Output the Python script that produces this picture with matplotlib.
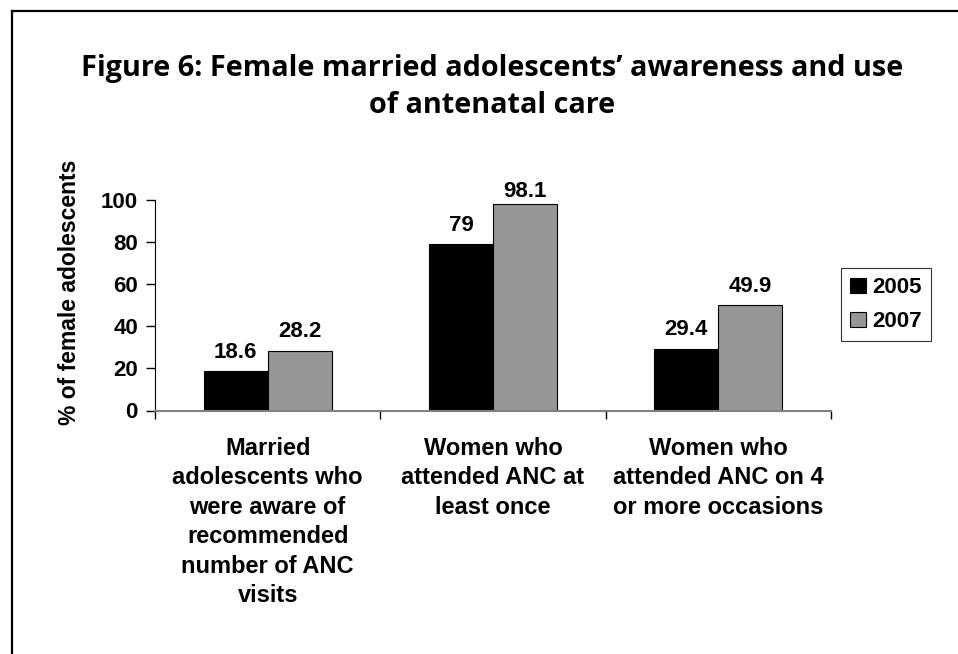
import numpy as np
import matplotlib
matplotlib.use('Agg')
import matplotlib.pyplot as plt
from matplotlib.lines import Line2D

# data
categories = ['Married\nadolescents who\nwere aware of\nrecommended\nnumber of ANC\nvisits',
              'Women who\nattended ANC at\nleast once',
              'Women who\nattended ANC on 4\nor more occasions']
series_names = ['2005', '2007']
vals_2005 = [18.6, 79, 29.4]
vals_2007 = [28.2, 98.1, 49.9]
yticks = [0, 20, 40, 60, 80, 100]

plt.rcParams['font.family'] = ['Liberation Sans', 'DejaVu Sans']

fig = plt.figure(figsize=(9.58, 6.54), dpi=100)
ax = fig.add_axes([155 / 958, 1 - 410.5 / 654, (831 - 155) / 958, 210.5 / 654])

x = np.arange(len(categories))
w = 0.284
b1 = ax.bar(x - w / 2, vals_2005, w, color='black', edgecolor='black', linewidth=0.8, label=series_names[0])
b2 = ax.bar(x + w / 2, vals_2007, w, color='#969696', edgecolor='black', linewidth=0.8, label=series_names[1])

for bars, vals in [(b1, vals_2005), (b2, vals_2007)]:
    for rect, v in zip(bars, vals):
        ax.text(rect.get_x() + rect.get_width() / 2, min(v + 6.5, 101.5), f'{v:g}', ha='center',
                va='baseline', fontsize=16, fontweight='bold', clip_on=False)

ax.set_xlim(-0.5, len(categories) - 0.5)
ax.set_ylim(0, 100)
ax.set_yticks(yticks)
ax.set_yticklabels([str(t) for t in yticks], fontsize=16, fontweight='bold')
ax.tick_params(axis='y', direction='out', length=6.5, width=1, pad=5.8)

# category labels between boundary ticks
ax.set_xticks(np.arange(-0.5, len(categories), 1.0))
ax.set_xticklabels([])
ax.tick_params(axis='x', direction='out', length=6, width=1)
for i, lab in enumerate(categories):
    ax.text(i, -12.5, lab, ha='center', va='top', fontsize=17, fontweight='bold', linespacing=1.36)

ax.spines['top'].set_visible(False)
ax.spines['right'].set_visible(False)
ax.spines['bottom'].set_color('#808080')
ax.spines['bottom'].set_linewidth(1.5)
ax.spines['left'].set_color('black')

fig.text(70 / 958, 1 - 292 / 654, '% of female adolescents', rotation=90, ha='center', va='center',
         fontsize=16.5, fontweight='bold')

leg = ax.legend(loc='center left', bbox_to_anchor=(0.878, 0.534), bbox_transform=fig.transFigure,
                prop={'size': 16, 'weight': 'bold'}, frameon=True, fancybox=False, edgecolor='black',
                handlelength=0.7, handleheight=0.7, handletextpad=0.3, borderpad=0.4, labelspacing=0.6,
                borderaxespad=0)
leg.get_frame().set_linewidth(0.8)

title_font = ['Open Sans', 'DejaVu Sans']
fig.text(492 / 958, 1 - 76 / 654, "Figure 6: Female married adolescents\u2019 awareness and use",
         ha='center', va='baseline', fontsize=20.8, fontweight='bold', family=title_font)
fig.text(492 / 958, 1 - 113 / 654, "of antenatal care",
         ha='center', va='baseline', fontsize=20.8, fontweight='bold', family=title_font)

# outer frame (only left and top edges fall inside the picture)
fig.add_artist(Line2D([0.0125, 0.0125], [0, 1 - 0.0168], transform=fig.transFigure, color='black', lw=1.6))
fig.add_artist(Line2D([0.0125, 1], [1 - 0.0168, 1 - 0.0168], transform=fig.transFigure, color='black', lw=1.6))

fig.savefig('out.png', dpi=100)
